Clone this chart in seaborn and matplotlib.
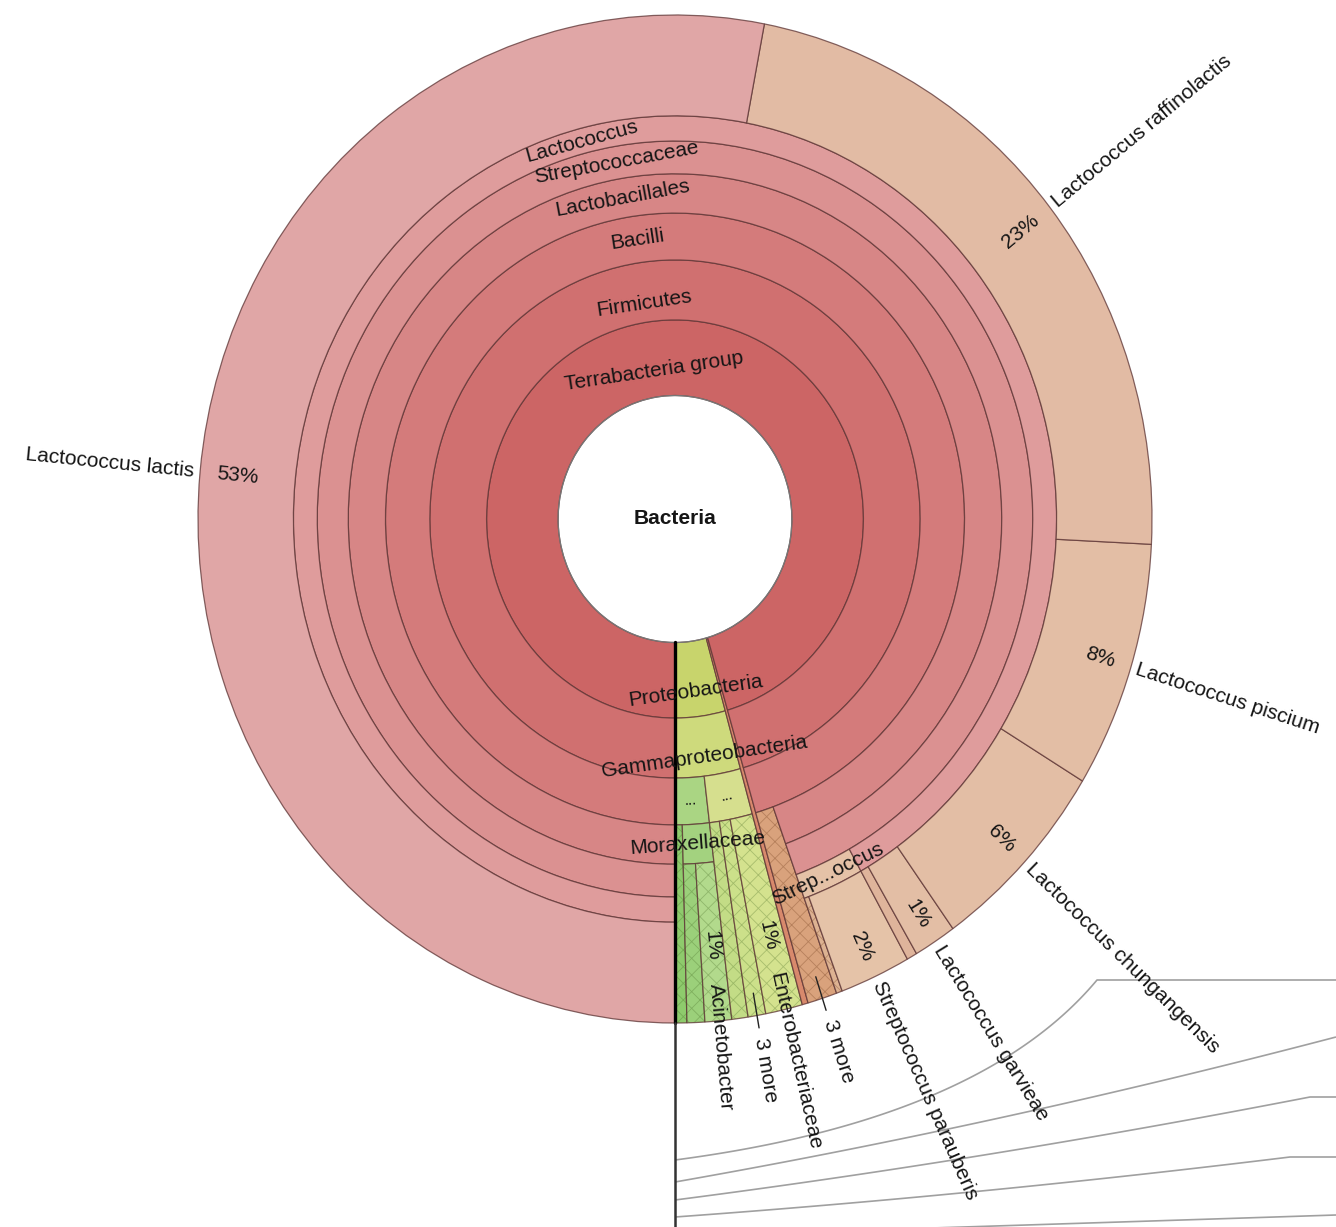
import numpy as np
import matplotlib
matplotlib.use("Agg")
import matplotlib.pyplot as plt
import matplotlib.transforms as mtransforms
import seaborn as sns

# ---- taxonomy (Krona-style sunburst), shares in % of classified reads ----
taxa = [
    "Bacteria",
    "Proteobacteria", "Gammaproteobacteria",
    "Pseudomonadales", "Pseudomonadaceae", "Moraxellaceae", "Psychrobacter", "Acinetobacter",
    "Enterobacterales", "Yersiniaceae", "Enterobacterales (other)", "Enterobacteriaceae",
    "Bacteroidetes",
    "Terrabacteria group", "Firmicutes", "Bacilli", "Bacilli (other)",
    "Lactobacillales", "Streptococcaceae",
    "Streptococcus", "Streptococcus sp.", "Streptococcus parauberis",
    "Lactococcus", "Lactococcus sp.", "Lactococcus garvieae", "Lactococcus chungangensis",
    "Lactococcus piscium", "Lactococcus raffinolactis", "Lactococcus lactis",
]
parent = [-1, 0, 1, 2, 3, 3, 5, 5, 2, 8, 8, 8, 0, 0, 13, 14, 15, 15, 17, 18, 19, 19,
          18, 22, 22, 22, 22, 22, 22]
shown = [
    "Bacteria",
    "Proteobacteria", "Gammaproteobacteria",
    "...", None, "Moraxellaceae", None, "Acinetobacter",
    "...", None, "3 more", "Enterobacteriaceae",
    None,
    "Terrabacteria group", "Firmicutes", "Bacilli", "3 more",
    "Lactobacillales", "Streptococcaceae",
    "Strep...occus", None, "Streptococcus parauberis",
    "Lactococcus", None, "Lactococcus garvieae", "Lactococcus chungangensis",
    "Lactococcus piscium", "Lactococcus raffinolactis", "Lactococcus lactis",
]
leaf_pct = [0, 0, 0, 0, 0.4, 0, 0.6, 0.9, 0, 0.55, 0.6, 1.25, 0.2, 0, 0, 0, 1.0,
            0, 0, 0, 0.2, 2.4, 0, 0.35, 1.45, 6.4, 7.9, 22.8, 53.0]

# connector curves of the key (pixel space)
key_left_y = [1160, 1182, 1200, 1217, 1236]
key_ctrl = [(980, 1120), (1000, 1125), (985, 1160), (980, 1195), (1000, 1226)]
key_bend = [(1097, 980), (1336, 1037), (1310, 1097), (1290, 1157), (1336, 1215)]

# ---- styling ----
sns.set_theme(style="white")
plt.rcParams["font.family"] = ["Liberation Sans", "DejaVu Sans"]
plt.rcParams["hatch.linewidth"] = 0.6
plt.rcParams["text.color"] = "#151515"

reds = sns.blend_palette(["#CC6565", "#DF9C9C"], 6).as_hex()
fill = {
    "Terrabacteria group": reds[0], "Firmicutes": reds[1], "Bacilli": reds[2],
    "Lactobacillales": reds[3], "Streptococcaceae": reds[4], "Lactococcus": reds[5],
    "Lactococcus lactis": "#E0A6A6",
    "Lactococcus raffinolactis": "#E2BBA4", "Lactococcus piscium": "#E3BEA5",
    "Lactococcus chungangensis": "#E3BEA5", "Lactococcus garvieae": "#E3BEA5",
    "Lactococcus sp.": "#DFB49B",
    "Streptococcus": "#E5C2A7", "Streptococcus parauberis": "#E5C3A8",
    "Streptococcus sp.": "#DDB292", "Bacilli (other)": "#D9A27C",
    "Bacteroidetes": "#D8896C",
    "Proteobacteria": "#C8D46C", "Gammaproteobacteria": "#CEDA7C",
    "Pseudomonadales": "#AAD583", "Enterobacterales": "#D6DF8E",
    "Pseudomonadaceae": "#8ECB6C", "Moraxellaceae": "#A3D27F", "Psychrobacter": "#9BD07A",
    "Acinetobacter": "#B2DA8C", "Yersiniaceae": "#C3DC86",
    "Enterobacterales (other)": "#CCE08A", "Enterobacteriaceae": "#D4E28E",
}
hatched = {"Pseudomonadaceae", "Psychrobacter", "Acinetobacter", "Yersiniaceae",
           "Enterobacterales (other)", "Enterobacteriaceae", "Bacilli (other)",
           "Streptococcus sp."}
ring_edges = [0.245, 0.395, 0.514, 0.607, 0.685, 0.75, 0.80, 1.0]
edge_rgba = (0.36, 0.2, 0.2, 0.75)

# ---- hierarchy layout ----
n = len(taxa)
children = [[] for _ in range(n)]
for i, p in enumerate(parent):
    if p >= 0:
        children[p].append(i)
depth = [0] * n
for i in range(1, n):
    depth[i] = depth[parent[i]] + 1
total = list(leaf_pct)
for i in reversed(range(n)):
    if children[i]:
        total[i] = sum(total[c] for c in children[i])
start = [0.0] * n
start[0] = -90.0
for i in range(n):
    s = start[i]
    for c in children[i]:
        start[c] = s
        s += total[c] * 3.6
span = [t * 3.6 for t in total]

# ---- figure ----
W, H = 1336, 1227
CX, CY, RX, RY = 675.0, 519.0, 477.0, 504.0
fig = plt.figure(figsize=(W / 100, H / 100), dpi=100)
fig.patch.set_facecolor("white")

key = fig.add_axes([0, 0, 1, 1])
key.set_xlim(0, W)
key.set_ylim(H, 0)
key.set_axis_off()
for yl, (qx, qy), (bx, by) in zip(key_left_y, key_ctrl, key_bend):
    t = np.linspace(0, 1, 120)
    xs = (1 - t) ** 2 * CX + 2 * (1 - t) * t * qx + t ** 2 * bx
    ys = (1 - t) ** 2 * yl + 2 * (1 - t) * t * qy + t ** 2 * by
    xs = np.append(xs, W)
    ys = np.append(ys, by)
    key.plot(xs, ys, color="#a0a0a0", lw=1.2, solid_capstyle="butt")

ax = fig.add_axes([(CX - RX) / W, (H - CY - RY) / H, 2 * RX / W, 2 * RY / H],
                  projection="polar")
ax.set_aspect("auto")
ax.set_ylim(0, 1)
ax.set_axis_off()


def screen_deg(th):
    t = np.radians(th)
    return np.degrees(np.arctan2(RY * np.sin(t), RX * np.cos(t)))


def tangent_deg(th):
    t = np.radians(th)
    a = np.degrees(np.arctan2(RY * np.cos(t), -RX * np.sin(t)))
    if a > 90:
        a -= 180
    elif a < -90:
        a += 180
    return a


# wedges
for i in range(1, n):
    d = depth[i]
    r0 = ring_edges[d - 1]
    r1 = ring_edges[d] if children[i] else 1.0
    th = np.radians(start[i] + span[i] / 2)
    w = np.radians(span[i])
    ax.bar(th, r1 - r0, width=w, bottom=r0, color=fill[taxa[i]],
           edgecolor=edge_rgba, linewidth=0.9, clip_on=False, zorder=2)
    if taxa[i] in hatched:
        hc = (0.45, 0.25, 0.12, 0.35) if taxa[i] in ("Bacilli (other)", "Streptococcus sp.") \
            else (0.25, 0.4, 0.12, 0.3)
        ax.bar(th, r1 - r0, width=w, bottom=r0, fill=False, hatch="xx",
               edgecolor=hc, linewidth=0, clip_on=False, zorder=3)

# centre hole
circ = np.linspace(0, 2 * np.pi, 500)
ax.plot(circ, np.full_like(circ, ring_edges[0]), color="#777777", lw=0.9,
        zorder=4, clip_on=False)
ax.text(0, 0, "Bacteria", ha="center", va="center", fontsize=15,
        fontweight="bold", zorder=6)

# start line of the chart
ax.plot([-np.pi / 2, -np.pi / 2], [ring_edges[0], 1.0], color="black", lw=2.4,
        zorder=5, clip_on=False)
ax.plot([-np.pi / 2, -np.pi / 2], [1.0, 1.42], color="#333333", lw=1.8,
        zorder=5, clip_on=False)

# labels
shift_inner = {1: -12, 2: -11}
for i in range(1, n):
    lab = shown[i]
    if lab is None:
        continue
    mid = start[i] + span[i] / 2
    th = np.radians(mid)
    d = depth[i]
    if children[i]:
        r = (ring_edges[d - 1] + ring_edges[d]) / 2
        tr = mtransforms.offset_copy(ax.transData, fig=fig, x=0,
                                     y=shift_inner.get(d, 0), units="dots")
        ax.text(th, r, lab, transform=tr, ha="center", va="center",
                rotation=tangent_deg(mid), rotation_mode="anchor",
                fontsize=11 if lab == "..." else 15, zorder=6)
        continue
    right = -90 < mid < 90
    rot = screen_deg(mid) if right else screen_deg(mid) - 180
    if lab == "3 more":
        ax.plot([th, th], [0.955, 1.025], color="#222222", lw=1.0, zorder=6,
                clip_on=False)
        ax.text(th, 1.045, lab, ha="left", va="center", rotation=rot,
                rotation_mode="anchor", fontsize=15, zorder=6)
        continue
    pct = f"{total[i]:.0f}%"
    if total[i] >= 1.4:
        pr, nr = 0.965, 1.012
    else:
        pr, nr = 0.88, 0.925
    ax.text(th, pr, pct, ha="right" if right else "left", va="center",
            rotation=rot, rotation_mode="anchor", fontsize=15, zorder=6)
    ax.text(th, nr, lab, ha="left" if right else "right", va="center",
            rotation=rot, rotation_mode="anchor", fontsize=15, zorder=6)

fig.savefig("out.png", dpi=100, facecolor="white")
